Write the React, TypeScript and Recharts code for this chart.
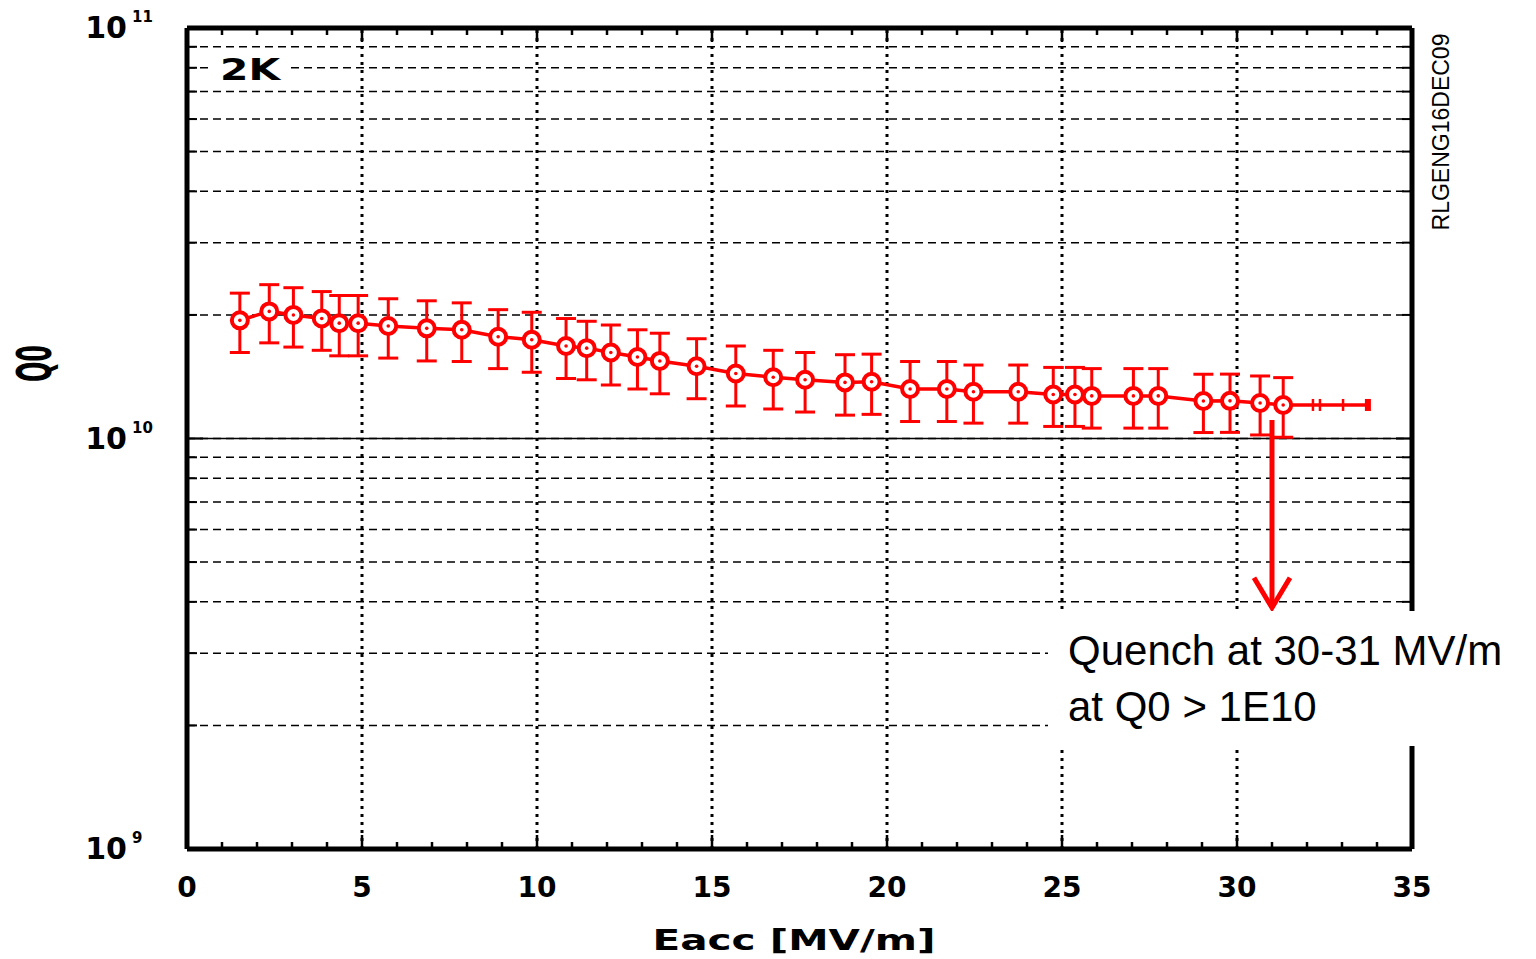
import React from 'react';
import { ComposedChart, Line, XAxis, YAxis, CartesianGrid, ErrorBar, ReferenceLine, ReferenceDot } from 'recharts';

// Eacc [MV/m] of each measured point
const eacc = [
    1.51, 2.35, 3.04, 3.85, 4.35, 4.89, 5.75, 6.85, 7.85, 8.89, 9.85, 10.83,
    11.42, 12.11, 12.87, 13.51, 14.56, 15.68, 16.75, 17.66, 18.8, 19.56, 20.66, 21.71,
    22.47, 23.75, 24.75, 25.37, 25.85, 27.04, 27.75, 29.04, 29.8, 30.66, 31.32,
];
// Q0 of each point
const q0 = [
    1.94e10, 2.04e10, 2.0e10, 1.96e10, 1.91e10, 1.91e10, 1.88e10, 1.855e10, 1.84e10, 1.77e10, 1.74e10, 1.68e10,
    1.66e10, 1.62e10, 1.58e10, 1.545e10, 1.5e10, 1.44e10, 1.41e10, 1.39e10, 1.37e10, 1.375e10, 1.32e10, 1.32e10,
    1.3e10, 1.3e10, 1.28e10, 1.28e10, 1.27e10, 1.27e10, 1.27e10, 1.234e10, 1.235e10, 1.22e10, 1.207e10,
];
// error on Q0
const q0Err = [
    0.32e10, 0.33e10, 0.33e10, 0.32e10, 0.32e10, 0.32e10, 0.31e10, 0.31e10, 0.3e10, 0.29e10, 0.29e10, 0.28e10,
    0.27e10, 0.27e10, 0.26e10, 0.26e10, 0.25e10, 0.24e10, 0.23e10, 0.23e10, 0.23e10, 0.23e10, 0.22e10, 0.22e10,
    0.21e10, 0.21e10, 0.21e10, 0.21e10, 0.21e10, 0.21e10, 0.21e10, 0.2e10, 0.2e10, 0.2e10, 0.2e10,
];
// points past the last marker (no circles)
const tailEacc = [31.32, 32.17, 32.37, 33.03, 33.74];
const tailQ0 = [1.207e10, 1.207e10, 1.207e10, 1.207e10, 1.207e10];

const xTicks = [
    0, 1, 2, 3, 4, 5, 6, 7, 8, 9, 10, 11, 12, 13, 14, 15, 16, 17,
    18, 19, 20, 21, 22, 23, 24, 25, 26, 27, 28, 29, 30, 31, 32, 33, 34, 35,
];
const xGrid = [5, 10, 15, 20, 25, 30];
const yTicks = [
    1e9, 2e9, 3e9, 4e9, 5e9, 6e9, 7e9, 8e9, 9e9,
    1e10, 2e10, 3e10, 4e10, 5e10, 6e10, 7e10, 8e10, 9e10, 1e11,
];

// quench annotation arrow
const quenchEacc = 31;
const arrowFrom = 1.11e10;
const arrowTo = 3.87e9;

const points = eacc.map((x, i) => ({ x, q: q0[i], err: q0Err[i] }));
const tail = tailEacc.map((x, i) => ({ x, q: tailQ0[i] }));

const RED = '#f00';
const BOLD = '"DejaVu Sans", sans-serif';

const isDecade = (v: number) => {
    const e = Math.round(Math.log10(v));
    return Math.abs(v / Math.pow(10, e) - 1) < 1e-6;
};

const LeftTick = (props: any) => {
    const { x, y, payload } = props;
    const v = payload.value;
    const major = isDecade(v);
    return (
        <g>
            <line x1={x} x2={x + (major ? 16 : 10)} y1={y} y2={y} stroke="#000" strokeWidth={2} />
            {major && (
                <text fontFamily={BOLD} fontWeight="bold" fill="#000">
                    <tspan x={x - 60} y={y + 10} fontSize={30} textAnchor="end">10</tspan>
                    <tspan x={x - 55} y={y - 6} fontSize={15}>{Math.round(Math.log10(v))}</tspan>
                </text>
            )}
        </g>
    );
};

const RightTick = (props: any) => {
    const { x, y, payload } = props;
    const major = isDecade(payload.value);
    return <line x1={x} x2={x - (major ? 16 : 10)} y1={y} y2={y} stroke="#000" strokeWidth={2} />;
};

const BottomTick = (props: any) => {
    const { x, y, payload } = props;
    const major = payload.value % 5 === 0;
    return (
        <g>
            <line x1={x} x2={x} y1={y} y2={y - (major ? 14 : 7)} stroke="#000" strokeWidth={2.5} />
            {major && (
                <text x={x} y={y + 48} textAnchor="middle" fontFamily={BOLD} fontWeight="bold" fontSize={28} fill="#000">
                    {payload.value}
                </text>
            )}
        </g>
    );
};

const TopTick = (props: any) => {
    const { x, y, payload } = props;
    const major = payload.value % 5 === 0;
    return <line x1={x} x2={x} y1={y} y2={y + (major ? 14 : 7)} stroke="#000" strokeWidth={2.5} />;
};

const RingDot = (props: any) => {
    const { cx, cy } = props;
    if (cx == null || cy == null) return null;
    return (
        <g>
            <circle cx={cx} cy={cy} r={8} fill="#fff" stroke={RED} strokeWidth={4} />
            <circle cx={cx} cy={cy} r={1.8} fill={RED} />
        </g>
    );
};

const TailTick = (props: any) => {
    const { cx, cy, index } = props;
    if (cx == null || cy == null || index === 0) return null;
    if (index === tail.length - 1) {
        return <rect x={cx - 3} y={cy - 6} width={6} height={12} fill={RED} />;
    }
    return <line x1={cx} x2={cx} y1={cy - 6} y2={cy + 6} stroke={RED} strokeWidth={2.5} />;
};

const Chevron = (props: any) => {
    const { cx, cy } = props;
    return (
        <path d={`M${cx - 18},${cy - 30} L${cx},${cy} L${cx + 18},${cy - 30}`} fill="none" stroke={RED} strokeWidth={5} />
    );
};

const XTitle = (props: any) => {
    const { viewBox } = props;
    const cx = viewBox.x + viewBox.width / 2 - 6;
    return (
        <text x={cx - 141} y={viewBox.y + 101} fontFamily={BOLD} fontWeight="bold" fontSize={29}
            textLength={283} lengthAdjust="spacingAndGlyphs" fill="#000">
            Eacc [MV/m]
        </text>
    );
};

const YTitle = (props: any) => {
    const { viewBox } = props;
    const cy = viewBox.y + viewBox.height / 2 - 75;
    return (
        <text transform={`translate(35,${cy}) scale(2,1) rotate(-90)`} textAnchor="middle" dominantBaseline="central"
            fontFamily={BOLD} fontWeight="bold" fontSize={24} fill="#000">
            Q0
        </text>
    );
};

const axisLine = { stroke: '#000', strokeWidth: 5 };

const App: React.FC = () => {
    return (
        <div style={{ position: 'absolute', left: 0, top: 0, width: 1536, height: 959, background: '#fff' }}>
            <ComposedChart width={1536} height={959} margin={{ top: 0, right: 0, bottom: 0, left: 0 }}>
                <CartesianGrid xAxisId="b" yAxisId="l" vertical={false} stroke="#000" strokeWidth={1.5} strokeDasharray="8 5" />
                <XAxis xAxisId="b" dataKey="x" type="number" domain={[0, 35]} ticks={xTicks} interval={0}
                    height={110} tickSize={0} tickMargin={0} tickLine={false} axisLine={axisLine}
                    tick={<BottomTick />} allowDataOverflow label={<XTitle />} />
                <XAxis xAxisId="t" orientation="top" dataKey="x" type="number" domain={[0, 35]} ticks={xTicks} interval={0}
                    height={28} tickSize={0} tickMargin={0} tickLine={false} axisLine={axisLine}
                    tick={<TopTick />} allowDataOverflow />
                <YAxis yAxisId="l" scale="log" type="number" domain={[1e9, 1e11]} ticks={yTicks} interval={0}
                    width={187} tickSize={0} tickMargin={0} tickLine={false} axisLine={axisLine}
                    tick={<LeftTick />} allowDataOverflow label={<YTitle />} />
                <YAxis yAxisId="r" orientation="right" scale="log" type="number" domain={[1e9, 1e11]} ticks={yTicks} interval={0}
                    width={124} tickSize={0} tickMargin={0} tickLine={false} axisLine={axisLine}
                    tick={<RightTick />} allowDataOverflow />
                {xGrid.map((v) => (
                    <ReferenceLine key={v} x={v} xAxisId="b" yAxisId="l" stroke="#000" strokeWidth={3} strokeDasharray="3 5" />
                ))}
                <ReferenceLine y={1e10} xAxisId="b" yAxisId="l" stroke="#000" strokeWidth={1.5} />
                <Line data={tail} dataKey="q" xAxisId="b" yAxisId="l" type="linear" stroke={RED} strokeWidth={3.5}
                    dot={<TailTick />} activeDot={false} isAnimationActive={false} />
                <Line data={points} dataKey="q" xAxisId="b" yAxisId="l" type="linear" stroke={RED} strokeWidth={3.5}
                    dot={<RingDot />} activeDot={false} isAnimationActive={false}>
                    <ErrorBar dataKey="err" direction="y" width={10} stroke={RED} strokeWidth={3} isAnimationActive={false} />
                </Line>
                <ReferenceLine xAxisId="b" yAxisId="l" segment={[{ x: quenchEacc, y: arrowFrom }, { x: quenchEacc, y: arrowTo }]}
                    stroke={RED} strokeWidth={5} />
                <ReferenceDot xAxisId="b" yAxisId="l" x={quenchEacc} y={arrowTo} r={0} shape={<Chevron />} />
            </ComposedChart>
            <svg width={1536} height={959} style={{ position: 'absolute', left: 0, top: 0, pointerEvents: 'none' }}>
                <rect x={213} y={55} width={74} height={28} fill="#fff" />
                <text x={220} y={80} fontFamily={BOLD} fontWeight="bold" fontSize={30} textLength={60}
                    lengthAdjust="spacingAndGlyphs" fill="#000">2K</text>
                <text transform="translate(1441,132) rotate(-90)" textAnchor="middle" dominantBaseline="central"
                    fontFamily='"Liberation Sans", Arial, sans-serif' fontSize={23} fill="#000">RLGENG16DEC09</text>
                <rect x={1048} y={611} width={488} height={135} fill="#fff" />
                <text x={1068} y={665} fontFamily='"Liberation Sans", Arial, sans-serif' fontSize={42} fill="#000">
                    Quench at 30-31 MV/m
                </text>
                <text x={1068} y={721} fontFamily='"Liberation Sans", Arial, sans-serif' fontSize={42} fill="#000">
                    at Q0 &gt; 1E10
                </text>
            </svg>
        </div>
    );
};

export default App;
